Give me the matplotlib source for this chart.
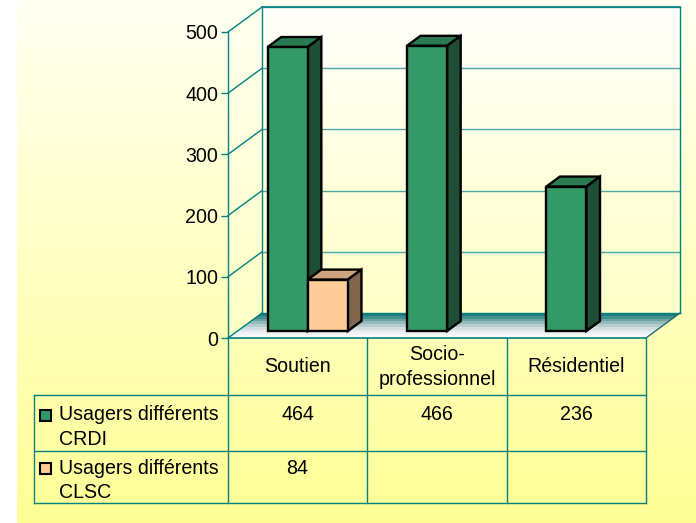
import numpy as np
import matplotlib
matplotlib.use("Agg")
import matplotlib.pyplot as plt
from matplotlib.patches import Polygon, Rectangle
from matplotlib.colors import LinearSegmentedColormap
from matplotlib.transforms import IdentityTransform

categories = ["Soutien", "Socio-\nprofessionnel", "Résidentiel"]
crdi_label = "Usagers différents\nCRDI"
clsc_label = "Usagers différents\nCLSC"
crdi = [464, 466, 236]
clsc = [84, None, None]
yticks = [0, 100, 200, 300, 400, 500]

TEAL = "#008080"
FS = 14.1
plt.rcParams["font.family"] = ["Liberation Sans", "DejaVu Sans"]

fig = plt.figure(figsize=(6.96, 5.23), dpi=100, facecolor="white")

# page layer in pixel coordinates
pg = fig.add_axes([0, 0, 1, 1], zorder=0)
pg.axis("off")

def gradient(ax, extent, stops, clip=None, steps=256):
    cmap = LinearSegmentedColormap.from_list("g", stops, N=steps)
    im = ax.imshow(np.linspace(0, 1, steps).reshape(-1, 1), cmap=cmap, extent=extent,
                   origin="upper", aspect="auto", interpolation="nearest", zorder=1)
    if clip is not None:
        patch = Polygon(clip, closed=True, transform=ax.transData, fc="none", ec="none")
        ax.add_patch(patch)
        im.set_clip_path(patch)
    return im

gradient(pg, (17, 696, 523, 0), ["#fffff2", "#ffff96"])

# plot area
X0, X1, Y0, YT = 228, 646, 338, 32
DX, DY = 34, 25
gradient(pg, (X0 + DX, X1 + DX, Y0 - DY, YT - DY), ["#fffffa", "#ffffc8"])
gradient(pg, (X0, X0 + DX, Y0, YT - DY), ["#fffff0", "#ffffc4"],
         clip=[(X0, Y0), (X0 + DX, Y0 - DY), (X0 + DX, YT - DY), (X0, YT)])
floor_poly = [(X0, Y0), (X1, Y0), (X1 + DX, Y0 - DY), (X0 + DX, Y0 - DY)]
gradient(pg, (X0, X1 + DX, Y0, Y0 - DY),
         ["#1f7d7d", "#5a9a9a", "#9dbfc0", "#cfdcdf", "#eceff3", "#fafbfc"],
         clip=floor_poly, steps=9)
pg.set_xlim(0, 696)
pg.set_ylim(523, 0)

# front plane axes
ax = fig.add_axes([X0 / 696, (523 - Y0) / 523, (X1 - X0) / 696, (Y0 - YT) / 523], zorder=1)
ax.patch.set_alpha(0)
ax.set_xlim(0, len(categories))
ax.set_ylim(0, 500)
ax.set_xticks([])
ax.set_yticks(yticks)
ax.tick_params(axis="y", length=5, width=1, color=TEAL, labelsize=FS, pad=2, labelcolor="black")
for s in ["top", "right", "bottom"]:
    ax.spines[s].set_visible(False)
ax.spines["left"].set_color(TEAL)
ax.spines["left"].set_linewidth(1)

def project(x, v, d=0.0):
    px, py = ax.transData.transform((x, v))
    return (px + d * DX, py + d * DY)

idt = IdentityTransform()

def seg(a, b, color=TEAL, lw=1.0, z=2):
    ax.plot([a[0], b[0]], [a[1], b[1]], color=color, lw=lw, transform=idt,
            clip_on=False, zorder=z, solid_capstyle="projecting")

# walls grid
for v in yticks:
    seg(project(0, v), project(0, v, 1), lw=1.0)
    seg(project(0, v, 1), project(3, v, 1), color="#4da6a6" if v else TEAL, lw=1.0)
seg(project(0, 500, 1), project(3, 500, 1), lw=1.2)
seg(project(0, 0, 1), project(0, 500, 1), lw=1.0)
seg(project(3, 0, 1), project(3, 500, 1), lw=1.0)
seg(project(3, 0), project(3, 0, 1), lw=1.0, color="#1f6f6f")
seg(project(0, 0), project(3, 0), lw=1.2)

# bars
WIDTH = 0.288
D0, D1 = 0.28, 0.68
STYLE = {"crdi": ("#339966", "#2a7a52", "#1f4d35"), "clsc": ("#ffcc99", "#cca37c", "#80664d")}

def bar3d(left, value, colors):
    front, top, side = colors
    r = left + WIDTH
    kw = dict(ec="black", lw=1.7, joinstyle="miter", zorder=5)
    ax.add_patch(Polygon([project(left, value, D0), project(r, value, D0), project(r, value, D1),
                          project(left, value, D1)], closed=True, transform=idt, fc=top, clip_on=False, **kw))
    ax.add_patch(Polygon([project(r, 0, D0), project(r, 0, D1), project(r, value, D1),
                          project(r, value, D0)], closed=True, transform=idt, fc=side, clip_on=False, **kw))
    ax.add_patch(Polygon([project(left, 0, D0), project(r, 0, D0), project(r, value, D0),
                          project(left, value, D0)], closed=True, transform=idt, fc=front, clip_on=False, **kw))

START = 0.216
for i in range(len(categories)):
    bar3d(i + START, crdi[i], STYLE["crdi"])
    if clsc[i] is not None:
        bar3d(i + START + WIDTH, clsc[i], STYLE["clsc"])

# data table (pixel layer)
col_x = [228, 367, 507, 646]
row_y = [395, 451, 503]
TB = dict(color=TEAL, lw=1.0, zorder=3, solid_capstyle="projecting")
for x in col_x:
    pg.plot([x, x], [Y0, row_y[-1]], **TB)
pg.plot([34, 34], [row_y[0], row_y[-1]], **TB)
for y in row_y:
    pg.plot([34, 646], [y, y], **TB)

centers = [(col_x[i] + col_x[i + 1]) / 2 for i in range(3)]
tx = dict(fontsize=FS, color="black", zorder=4)
for c, name in zip(centers, categories):
    pg.text(c, 367, name, ha="center", va="center", linespacing=1.4, **tx)
for c, v in zip(centers, crdi):
    pg.text(c, 414.5, str(v), ha="center", va="center", **tx)
for c, v in zip(centers, clsc):
    if v is not None:
        pg.text(c, 468, str(v), ha="center", va="center", **tx)

for y, label, key in [(427, crdi_label, "crdi"), (480.5, clsc_label, "clsc")]:
    pg.text(59, y, label, ha="left", va="center", linespacing=1.4, **tx)
    pg.add_patch(Rectangle((40, y - 17.5), 11, 11, fc=STYLE[key][0], ec="black", lw=1.5, zorder=4))

pg.set_xlim(0, 696)
pg.set_ylim(523, 0)
fig.savefig("out.png", dpi=100)
